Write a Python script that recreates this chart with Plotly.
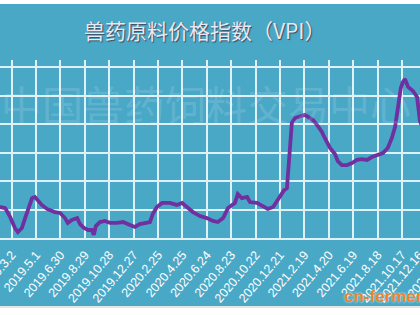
import plotly.graph_objects as go

dates = ["2019-02-01","2019-02-14","2019-02-26","2019-03-10","2019-03-17","2019-03-27","2019-04-04","2019-04-11",
         "2019-04-21","2019-04-28","2019-05-06","2019-05-15","2019-05-28","2019-06-16","2019-06-29","2019-07-11",
         "2019-07-18","2019-07-28","2019-08-10","2019-08-17","2019-08-27","2019-09-06","2019-09-15","2019-09-20",
         "2019-09-25","2019-10-05","2019-10-17","2019-10-30","2019-11-16","2019-12-01","2019-12-18","2019-12-30",
         "2020-01-11","2020-02-05","2020-02-12","2020-02-22","2020-03-06","2020-03-25","2020-04-11","2020-04-24",
         "2020-05-06","2020-05-21","2020-06-07","2020-06-24","2020-07-09","2020-07-21","2020-08-03","2020-08-15",
         "2020-08-25","2020-09-01","2020-09-08","2020-09-18","2020-10-01","2020-10-08","2020-10-25","2020-11-09",
         "2020-11-21","2020-12-04","2020-12-16","2020-12-23","2020-12-31","2021-01-07","2021-01-09","2021-01-14",
         "2021-01-19","2021-01-27","2021-02-08","2021-02-20","2021-02-28","2021-03-12","2021-03-22","2021-04-03",
         "2021-04-10","2021-04-23","2021-05-05","2021-05-12","2021-05-22","2021-06-04","2021-06-16","2021-06-28",
         "2021-07-10","2021-07-23","2021-08-04","2021-08-16","2021-08-31","2021-09-12","2021-09-22","2021-09-30",
         "2021-10-07","2021-10-14","2021-10-19","2021-10-24","2021-11-01","2021-11-13","2021-11-23","2021-11-30",
         "2021-12-07"]
vpi = [70.9,70.5,67.4,63.5,62.1,63.5,67.0,69.8,
       74.0,74.4,73.0,71.6,70.2,69.1,68.8,67.0,
       65.3,66.3,67.0,64.9,63.5,62.8,62.8,61.1,
       64.2,65.6,66.0,65.3,65.3,65.6,64.6,63.9,
       64.9,65.6,68.4,70.9,72.3,72.3,71.6,72.3,
       70.9,69.1,67.7,67.0,66.0,65.6,67.0,70.5,
       71.6,72.3,75.4,74.0,74.4,72.6,72.3,71.2,
       70.2,70.9,73.7,74.7,76.8,77.5,82.1,92.6,
       100.4,102.1,102.5,103.2,102.5,101.4,99.7,97.2,
       95.1,91.6,89.5,87.0,85.6,85.6,86.3,87.4,
       87.7,87.4,88.4,89.1,89.8,91.6,95.1,99.0,
       106.7,112.6,114.7,115.8,113.0,111.6,109.5,101.1,
       98.6]

tick_dates = ["2019-03-02","2019-05-01","2019-06-30","2019-08-29","2019-10-28","2019-12-27",
              "2020-02-25","2020-04-25","2020-06-24","2020-08-23","2020-10-22","2020-12-21",
              "2021-02-19","2021-04-20","2021-06-19","2021-08-18","2021-10-17"]
tick_labels = ["2019.3.2","2019.5.1","2019.6.30","2019.8.29","2019.10.28","2019.12.27",
               "2020.2.25","2020.4.25","2020.6.24","2020.8.23","2020.10.22","2020.12.21",
               "2021.2.19","2021.4.20","2021.6.19","2021.8.18","2021.10.17"]
# ticks that fall just past the visible right edge (partially shown in the reference)
extra_labels = ["2021.12.16", "2022.2.14"]

title_text = "兽药原料价格指数（VPI）"
watermark = "中国兽药饲料交易中心"

BG = "#4aa8c7"
GRID = "#dff1f7"
TICKFONT = dict(family="Liberation Sans, Arial", size=12.5, color="white")
ANGLE = -50

fig = go.Figure()
fig.add_trace(go.Scatter(x=dates, y=vpi, mode="lines",
                         line=dict(color="#7030a0", width=3.8), hoverinfo="skip"))

W, H = 420, 315
mt, mb = 60, 77
ph = H - mt - mb

def py(y):
    return (H - mb - y) / ph

annotations = [
    dict(text=watermark, xref="paper", yref="paper", x=206/W, y=py(103),
         xanchor="center", yanchor="middle", showarrow=False,
         font=dict(family="Noto Sans CJK SC", size=41, color="rgba(255,255,255,0.15)")),
    dict(text=title_text, xref="paper", yref="paper", x=205/W, y=py(30),
         xanchor="center", yanchor="middle", showarrow=False,
         font=dict(family="Noto Sans CJK SC", size=21, color="#ece6f2",
                   shadow="1px 1px 1px #3a4a5a")),
]
for i, lab in enumerate(extra_labels):
    xpx = 426.5 + i * 24.4
    annotations.append(dict(text=lab, xref="paper", yref="paper", x=(xpx + 3) / W, y=py(246),
                            xanchor="right", yanchor="top", showarrow=False, textangle=ANGLE,
                            font=TICKFONT))
annotations.append(dict(text="<b>cn-fermen</b>", xref="paper", yref="paper", x=342/W, y=py(296),
                        xanchor="left", yanchor="middle", showarrow=False,
                        font=dict(family="Liberation Sans, Arial", size=17, color="#e8822c",
                                  shadow="0px 0px 2px #ffffff")))

fig.update_layout(
    width=W, height=H,
    margin=dict(l=0, r=0, t=mt, b=mb, pad=0, autoexpand=False),
    paper_bgcolor=BG, plot_bgcolor=BG,
    showlegend=False,
    xaxis=dict(type="date", range=["2019-02-01 05:00", "2021-11-30 06:00"],
               tickmode="array", tickvals=tick_dates, ticktext=tick_labels,
               tickangle=ANGLE, tickfont=TICKFONT, ticklabeloverflow="allow", automargin=False,
               ticklabelstandoff=3,
               showgrid=True, gridcolor=GRID, gridwidth=1.5,
               showline=True, linecolor=GRID, linewidth=1.5, ticks="", zeroline=False),
    yaxis=dict(range=[60, 122.46], tickmode="linear", tick0=60, dtick=10, automargin=False,
               showgrid=True, gridcolor=GRID, gridwidth=1.5,
               showticklabels=False, zeroline=False, ticks=""),
    annotations=annotations,
    shapes=[
        dict(type="rect", xref="paper", yref="paper", x0=0, x1=1, y0=py(4), y1=py(0),
             fillcolor="white", line=dict(width=0), layer="above"),
        dict(type="rect", xref="paper", yref="paper", x0=0, x1=1, y0=py(315), y1=py(306),
             fillcolor="white", line=dict(width=0), layer="above"),
        dict(type="line", xref="paper", yref="paper", x0=0, x1=1, y0=py(307), y1=py(307),
             line=dict(color="#dcdcdc", width=1.5), layer="above"),
    ],
)

fig.write_html("out.html")
